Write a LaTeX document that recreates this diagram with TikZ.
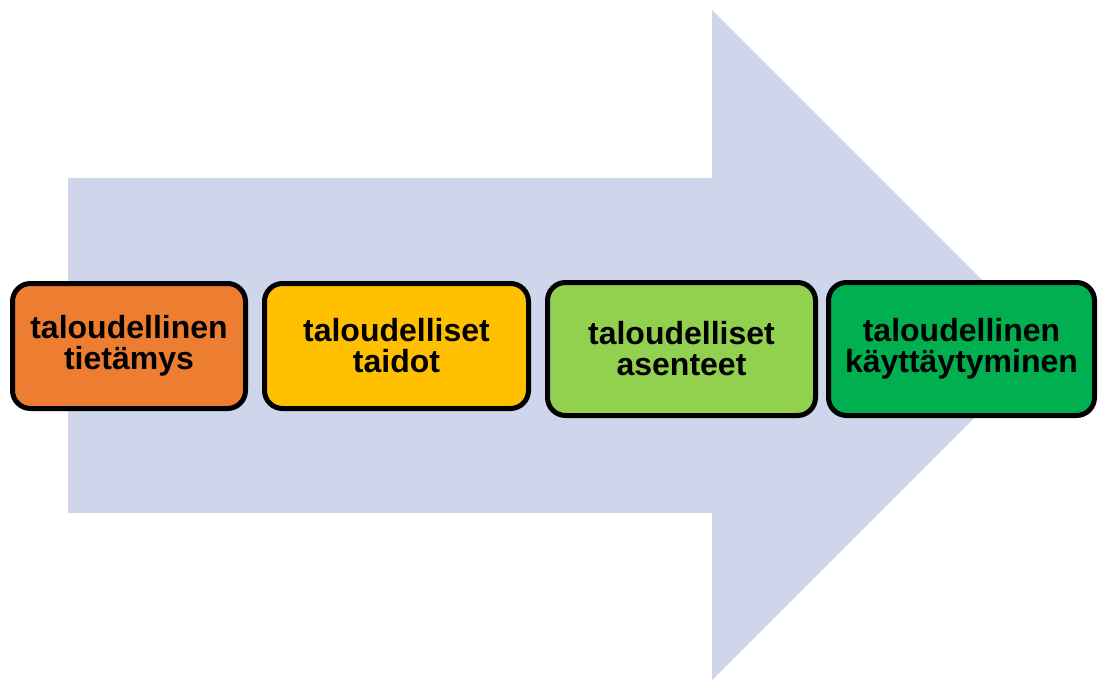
\documentclass[tikz,border=0pt]{standalone}
\usepackage{fontspec}
\setmainfont{Liberation Sans}
\usetikzlibrary{positioning}
\definecolor{arrowcolor}{HTML}{CFD5EA}
\definecolor{orangebox}{HTML}{ED7D31}
\definecolor{yellowbox}{HTML}{FFC000}
\definecolor{lightgreenbox}{HTML}{92D050}
\definecolor{greenbox}{HTML}{00B050}
\tikzset{
	stage/.style={
		rectangle,
		rounded corners=18pt,
		line width=5pt,
		draw=black,
		align=center,
		inner sep=0pt,
		font=\bfseries\fontsize{32}{31}\selectfont
	},
	bigarrow/.style={
		fill=arrowcolor,
		draw=none
	},
}

\begin{document}
\begin{tikzpicture}[x=1pt,y=-1pt,node distance=14pt]
	\useasboundingbox (0,0) rectangle (1098,682);
	% background arrow
	\fill[bigarrow] (68,178) -- (712,178) -- (712,10) -- (1047,345)
		-- (712,680) -- (712,513) -- (68,513) -- cycle;
	\node[stage,fill=orangebox,minimum width=233pt,minimum height=125pt]
		(tietamys) at (129,346) {taloudellinen\\tietämys};
	\node[stage,fill=yellowbox,minimum width=264pt,minimum height=125pt]
		(taidot) [right=of tietamys] {taloudelliset\\taidot};
	\node[stage,fill=lightgreenbox,minimum width=268pt,minimum height=133pt]
		(asenteet) [right=of taidot,yshift=-3pt] {taloudelliset\\asenteet};
	\node[stage,fill=greenbox,minimum width=266pt,minimum height=133pt]
		(kayttaytyminen) [right=8pt of asenteet] {taloudellinen\\käyttäytyminen};
\end{tikzpicture}
\end{document}
